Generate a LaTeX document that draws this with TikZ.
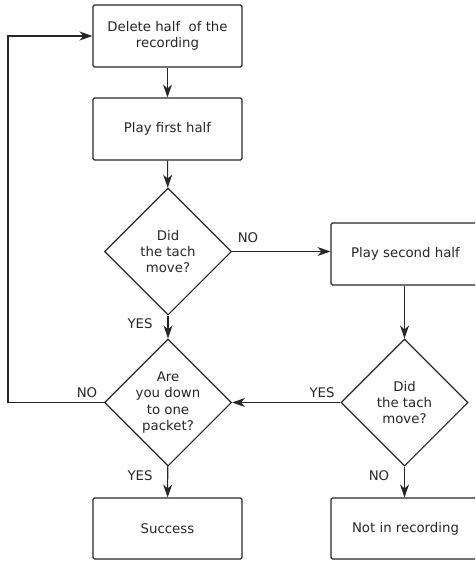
\documentclass[tikz,border=0pt]{standalone}
\usepackage{fontspec}
\setmainfont{DejaVu Sans}
\usetikzlibrary{shapes.geometric,arrows.meta}
\begin{document}
\begin{tikzpicture}[x=1pt,y=-1pt,
  line width=1.1pt, draw=black!85,
  every node/.style={font=\fontsize{13.3}{16.3}\selectfont, text=black!85},
  box/.style={draw=black!85, rounded corners=1.5pt, minimum width=149pt, minimum height=62pt, inner sep=0pt, align=center},
  dia/.style={draw=black!85, diamond, aspect=1, minimum width=127pt, minimum height=127pt, inner sep=0pt, align=center},
  lab/.style={inner sep=0pt},
  arr/.style={-{Stealth[length=13pt,width=9pt,inset=4pt]}}]
\useasboundingbox (0,0) rectangle (475,561);
\clip (0,0) rectangle (475,561);
\node[box] (b1) at (167.5,36) {Delete half\ \ of the\\recording};
\node[box] (b2) at (167.5,129) {Play first half};
\node[dia] (d1) at (168,251.5) {Did\\the tach\\move?};
\node[box] (b3) at (405.5,254) {Play second half};
\node[dia] (d2) at (168,402.5) {Are\\you down\\to one\\packet?};
\node[dia] (d3) at (404.5,402.5) {Did\\the tach\\move?};
\node[box, minimum height=61pt] (b4) at (167.5,528.5) {Success};
\node[box, minimum height=61pt] (b5) at (405.5,528.5) {Not in recording};
\coordinate (l1) at (8,402.5);
\coordinate (l2) at (8,36);
\draw[arr] (b1) -- (b2);
\draw[arr] (b2) -- (d1);
\draw[arr] (d1.east) -- (d1.east -| b3.west);
\draw[arr] (d1) -- (d2);
\draw[arr] (b3.south -| d3.north) -- (d3.north);
\draw[arr] (d3.west) -- (d2.east);
\draw[arr] (d2.west) -- (l1) -- (l2) -- (b1.west);
\draw[arr] (d2) -- (b4);
\draw[arr] (d3.south) -- (d3.south |- b5.north);
\node[lab] (n1) at (248,238) {NO};
\node[lab] (y1) at (140,324) {YES};
\node[lab] (n2) at (87,393) {NO};
\node[lab] (y2) at (322,393) {YES};
\node[lab] (y3) at (140,476) {YES};
\node[lab] (n3) at (379,476) {NO};
\end{tikzpicture}
\end{document}
